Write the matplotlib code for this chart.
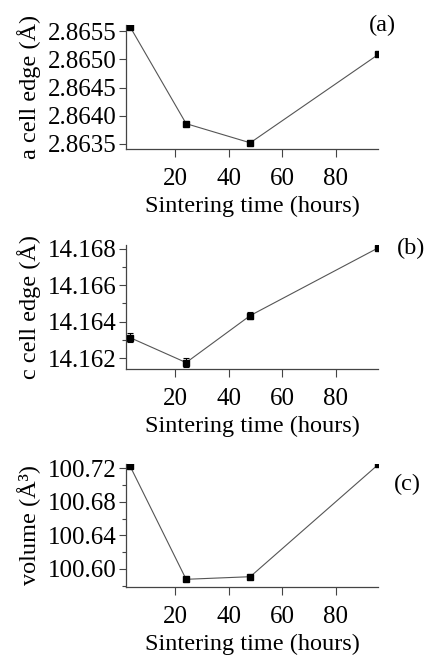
import matplotlib
matplotlib.use("Agg")
import matplotlib.pyplot as plt
from matplotlib.ticker import MultipleLocator

plt.rcParams['font.family'] = ['Liberation Serif', 'DejaVu Serif']
plt.rcParams['font.size'] = 17.5

# sintering time (hours)
hours = [3, 24, 48, 96]

# (a) a cell edge (Å)
a_edge = [2.86558, 2.86386, 2.86352, 2.86509]
a_err = [0.00001, 0.00002, 0.00001, 0.00001]

# (b) c cell edge (Å)
c_edge = [14.16312, 14.16175, 14.16433, 14.16805]
c_err = [0.00024, 0.00026, 0.00021, 0.00009]

# (c) cell volume (Å^3)
volume = [100.7230, 100.5877, 100.5908, 100.7250]
vol_err = [0.0015, 0.0015, 0.0012, 0.0012]

fig = plt.figure(figsize=(4.27, 6.57), dpi=100)

panels = [
    # values, errors, ylabel, ylim, major, minor, axes rect, tag, tag pos
    (a_edge, a_err, 'a cell edge (Å)', (2.86341, 2.86561), 0.0005, None,
     [0.2951, 0.7732, 0.5913, 0.1887], '(a)', (0.895, 0.962), '{:.4f}'),
    (c_edge, c_err, 'c cell edge (Å)', (14.1614, 14.1682), 0.002, 0.001,
     [0.2951, 0.4384, 0.5913, 0.1887], '(b)', (0.9625, 0.6225), '{:.3f}'),
    (volume, vol_err, 'volume (Å³)', (100.5791, 100.7254), 0.04, 0.02,
     [0.2951, 0.1073, 0.5913, 0.1865], '(c)', (0.953, 0.262), '{:.2f}'),
]

for vals, errs, ylab, ylim, major, minor, rect, tag, tagpos, fmt in panels:
    ax = fig.add_axes(rect)
    ax.plot(hours, vals, color='#555555', lw=0.8, zorder=2)
    ax.errorbar(hours, vals, yerr=errs, fmt='s', ms=4, color='black',
                ecolor='black', elinewidth=0.8, capsize=2, capthick=0.8, zorder=3)
    ax.set_xlim(1.5, 96)
    ax.set_ylim(*ylim)
    ax.set_xticks([20, 40, 60, 80])
    ax.yaxis.set_major_locator(MultipleLocator(major))
    if minor:
        ax.yaxis.set_minor_locator(MultipleLocator(minor))
    ax.yaxis.set_major_formatter(plt.FuncFormatter(lambda v, p, f=fmt: f.format(v)))
    for s in ['top', 'right']:
        ax.spines[s].set_visible(False)
    for s in ['left', 'bottom']:
        ax.spines[s].set_color('#444444')
        ax.spines[s].set_linewidth(0.9)
    ax.tick_params(axis='x', direction='out', length=6, width=0.8, pad=8,
                   colors='#444444', labelcolor='black', labelsize=18)
    ax.tick_params(axis='y', which='major', direction='out', length=5, width=0.8, pad=1.5,
                   colors='#444444', labelcolor='black', labelsize=18)
    ax.tick_params(axis='y', which='minor', direction='out', length=3, width=0.8, colors='#444444')
    ax.set_xlabel('Sintering time (hours)', labelpad=4)
    ax.set_ylabel(ylab)
    ax.yaxis.set_label_coords(-0.335, 0.5)
    fig.text(tagpos[0], tagpos[1], tag, ha='center', va='center')

fig.savefig('out.png', dpi=100)
